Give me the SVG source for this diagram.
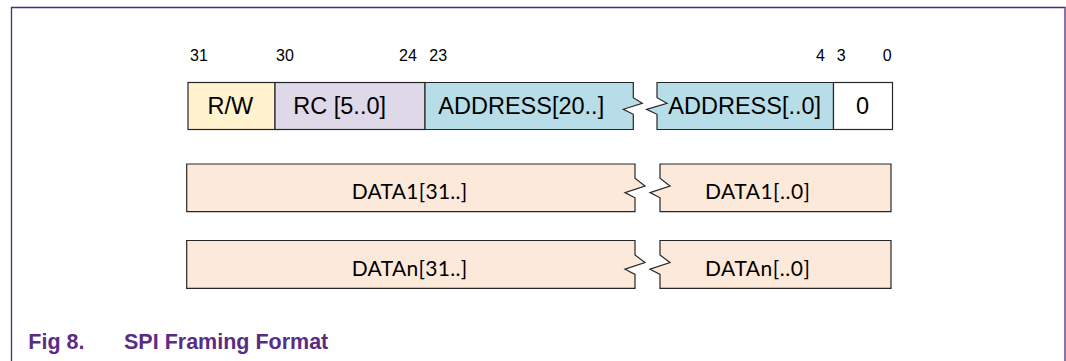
<svg xmlns="http://www.w3.org/2000/svg" width="1066" height="361" viewBox="0 0 1066 361">
<style>
.box{stroke:#262626;stroke-width:1.2;stroke-linejoin:miter}
.yl{fill:#FFF2CC}.pu{fill:#DFD8E8}.bl{fill:#B7DEE8}.wh{fill:#FFFFFF}.pe{fill:#FDE9D9}
.bit{font-family:"Liberation Sans",Arial,sans-serif;font-size:16px;fill:#000}
.lab{font-family:"Liberation Sans",Arial,sans-serif;font-size:23.5px;fill:#000}
.dat{font-family:Lato,"Open Sans",sans-serif;font-size:21px;fill:#000}
.cap{font-family:"Liberation Sans",Arial,sans-serif;font-size:21.5px;font-weight:bold;fill:#5B2C86}
</style>
<rect width="1066" height="361" fill="#fff"/>
<path d="M11.5,361 V7.5 H1065 V361" fill="none" stroke="#4E2A84" stroke-width="1.3"/>
<g id="bits">
<text class="bit" x="190" y="60.5">31</text>
<text class="bit" x="276" y="60.5">30</text>
<text class="bit" x="399" y="60.5">24</text>
<text class="bit" x="429.3" y="60.5">23</text>
<text class="bit" x="816" y="60.5">4</text>
<text class="bit" x="836.7" y="60.5">3</text>
<text class="bit" x="882.7" y="60.5">0</text>
</g>
<g id="rw">
<rect class="box yl" x="188" y="82.5" width="87" height="47"/>
<text class="lab" x="207.5" y="114">R/W</text>
</g>
<g id="rc">
<rect class="box pu" x="275" y="82.5" width="150" height="47"/>
<text class="lab" x="293.3" y="114">RC [5..0]</text>
</g>
<g id="addr-hi">
<path class="box bl" d="M425,82.5 H633.3 V97.7 L642.3,103.3 L623.3,109.3 L633.3,114.3 V129.5 H425 Z"/>
<text class="lab" x="438.3" y="114">ADDRESS[20..]</text>
</g>
<g id="addr-lo">
<path class="box bl" d="M833.5,82.5 H657 V97.7 L667,103.3 L646.5,109.3 L657,114.3 V129.5 H833.5 Z"/>
<text class="lab" x="668.3" y="114">ADDRESS[..0]</text>
</g>
<g id="zero">
<rect class="box wh" x="833.5" y="82.5" width="59" height="47"/>
<text class="lab" x="862.5" y="114" text-anchor="middle">0</text>
</g>
<g id="data1-hi">
<path class="box pe" d="M635,164 H186.7 V211.7 H635 V197.8 L625,192.6 L645,186 L635,178.3 Z"/>
<text class="dat" x="351.7" y="199.3" textLength="115.6">DATA1[31..]</text>
</g>
<g id="data1-lo">
<path class="box pe" d="M660,164 H891 V211.7 H660 V197.8 L650,192.6 L670,186 L660,178.3 Z"/>
<text class="dat" x="705" y="199.3" textLength="105">DATA1[..0]</text>
</g>
<g id="datan-hi">
<path class="box pe" d="M635,240.5 H186.7 V288.3 H635 V274.4 L625,269.2 L645,262.6 L635,254.9 Z"/>
<text class="dat" x="351.7" y="276" textLength="115.6">DATAn[31..]</text>
</g>
<g id="datan-lo">
<path class="box pe" d="M660,240.5 H891 V288.3 H660 V274.4 L650,269.2 L670,262.6 L660,254.9 Z"/>
<text class="dat" x="705" y="276" textLength="105">DATAn[..0]</text>
</g>
<g id="connectors"></g>
<g id="caption">
<text class="cap" x="28.3" y="349.3">Fig 8.</text>
<text class="cap" x="124" y="349.3">SPI Framing Format</text>
</g>
</svg>
